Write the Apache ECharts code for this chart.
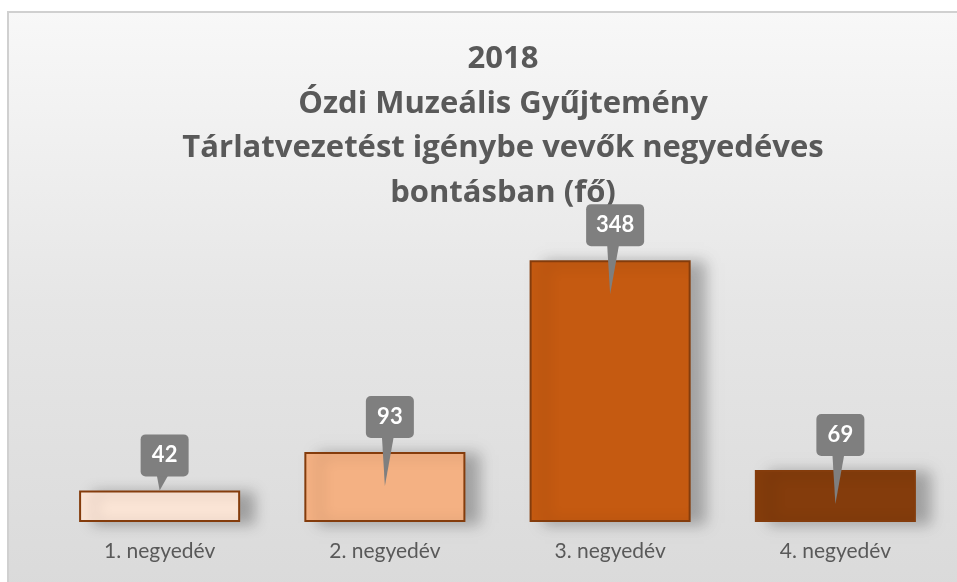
<!DOCTYPE html>
<html>
<head>
<meta charset="utf-8">
<script src="https://cdn.jsdelivr.net/npm/echarts@6/dist/echarts.min.js"></script>
<style>
  html, body { margin: 0; padding: 0; background: #fff; }
  #main { width: 957px; height: 582px; }
</style>
</head>
<body>
<div id="main"></div>
<script>
// data
var titleLines = ['2018', 'Ózdi Muzeális Gyűjtemény', 'Tárlatvezetést igénybe vevők negyedéves', 'bontásban (fő)'];
var categories = ['1. negyedév', '2. negyedév', '3. negyedév', '4. negyedév'];
var visitors = [42, 93, 348, 69];

var barColors = ['#fbe5d6', '#f4b183', '#c55a11', '#843c0c'];
var fontFamily = 'Lato, "Open Sans", sans-serif';

var chart = echarts.init(document.getElementById('main'));

// gray callout box with a pointer into the bar
function renderCallout(params, api) {
  var idx = api.value(0);
  var v = api.value(1);
  var top = api.coord([idx, v]);
  var base = api.coord([idx, 0]);
  var txt = String(v);
  var w = txt.length > 2 ? 58 : 48;
  var h = 42;
  var cx = top[0] + 5;
  var boxBottom = top[1] - 14;
  var tipY = (base[1] - top[1]) > 50 ? top[1] + 34 : top[1];
  return {
    type: 'group',
    children: [
      {
        type: 'polygon',
        shape: { points: [[cx - 8, boxBottom - 2], [cx + 4, boxBottom - 2], [top[0], tipY]] },
        style: { fill: '#7f7f7f' }
      },
      {
        type: 'rect',
        shape: { x: cx - w / 2, y: boxBottom - h, width: w, height: h, r: 5 },
        style: { fill: '#7f7f7f' }
      },
      {
        type: 'text',
        style: {
          x: cx, y: boxBottom - h / 2,
          text: txt,
          fill: '#ffffff',
          font: 'bold 22px ' + fontFamily,
          align: 'center',
          verticalAlign: 'middle'
        }
      }
    ]
  };
}

var option = {
  animation: false,
  backgroundColor: '#ffffff',
  graphic: [
    {
      type: 'rect',
      z: -10,
      shape: { x: 8, y: 12, width: 960, height: 580 },
      style: {
        fill: new echarts.graphic.LinearGradient(0, 0, 0, 1, [
          { offset: 0, color: '#f8f8f8' },
          { offset: 0.5, color: '#e6e6e6' },
          { offset: 1, color: '#dadada' }
        ]),
        stroke: '#d0d0d0',
        lineWidth: 2
      }
    }
  ],
  title: {
    text: titleLines.join('\n'),
    left: 498,
    top: 32,
    textAlign: 'center',
    textStyle: {
      fontFamily: '"Open Sans", sans-serif',
      fontSize: 31,
      fontWeight: 'bold',
      color: '#595959',
      lineHeight: 44.5
    }
  },
  grid: { left: 47, right: 9, top: 221, bottom: 60 },
  xAxis: {
    type: 'category',
    data: categories,
    axisLine: { show: false },
    axisTick: { show: false },
    axisLabel: {
      color: '#595959',
      fontFamily: fontFamily,
      fontSize: 21,
      margin: 19
    }
  },
  yAxis: {
    type: 'value',
    min: 0,
    max: 400,
    show: false,
    splitLine: { show: false }
  },
  series: [
    {
      type: 'bar',
      barWidth: '71.5%',
      data: visitors.map(function (v, i) {
        return {
          value: v,
          itemStyle: { color: barColors[i] }
        };
      }),
      itemStyle: {
        borderColor: '#843c0c',
        borderWidth: 2,
        shadowColor: 'rgba(0,0,0,0.28)',
        shadowBlur: 14,
        shadowOffsetX: 14,
        shadowOffsetY: 2
      }
    },
    {
      type: 'custom',
      renderItem: renderCallout,
      data: visitors.map(function (v, i) { return [i, v]; }),
      z: 10
    }
  ]
};

chart.setOption(option);
window.onresize = chart.resize;
</script>
</body>
</html>
